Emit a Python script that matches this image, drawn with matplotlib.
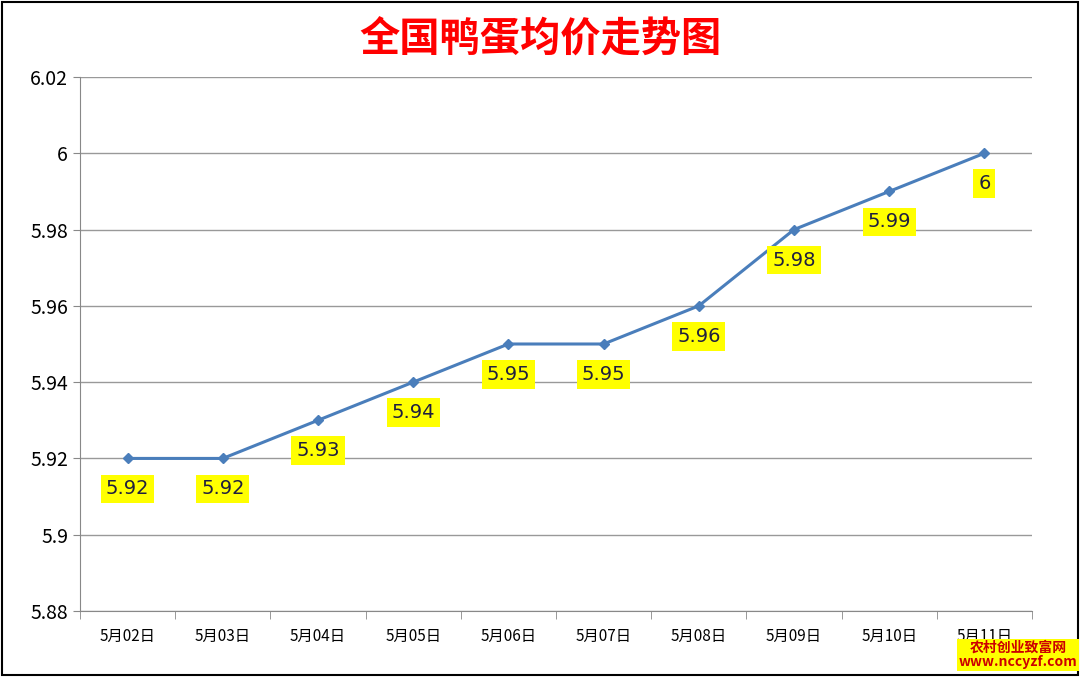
import matplotlib
matplotlib.use("Agg")
import matplotlib.pyplot as plt
from matplotlib.patches import Rectangle

plt.rcParams['font.family'] = ['Noto Sans CJK SC', 'DejaVu Sans']

dates = ["5月02日", "5月03日", "5月04日", "5月05日", "5月06日",
         "5月07日", "5月08日", "5月09日", "5月10日", "5月11日"]
prices = [5.92, 5.92, 5.93, 5.94, 5.95, 5.95, 5.96, 5.98, 5.99, 6.00]
yticks = [5.88, 5.9, 5.92, 5.94, 5.96, 5.98, 6.0, 6.02]
ytick_labels = ["5.88", "5.9", "5.92", "5.94", "5.96", "5.98", "6", "6.02"]

fig = plt.figure(figsize=(10.8, 6.77), dpi=100)
ax = fig.add_axes([80 / 1080, 1 - 611 / 677, 952 / 1080, 534 / 677])
fig.patches.append(Rectangle((0.002, 0.003), 0.996, 0.994, transform=fig.transFigure,
                             fill=False, edgecolor="black", lw=1.5))

x = list(range(len(dates)))
ax.plot(x, prices, color="#4a7ebb", lw=2.2, marker="D", ms=5.5, zorder=3)
for xi, p in zip(x, prices):
    lbl = "6" if p == 6.0 else f"{p:.2f}"
    ax.annotate(lbl, (xi, p), xytext=(0, -22), textcoords="offset points",
                ha="center", va="center", fontsize=14, color="#1f1f3f",
                family="DejaVu Sans",
                bbox=dict(boxstyle="square,pad=0.25", fc="#ffff00", ec="none"))

ax.set_xlim(-0.5, len(dates) - 0.5)
ax.set_ylim(5.88, 6.02)
ax.set_yticks(yticks)
ax.set_yticklabels(ytick_labels, fontsize=14)
ax.set_xticks(x)
ax.set_xticklabels(dates, fontsize=11)
ax.set_xticks([i - 0.5 for i in range(len(dates) + 1)], minor=True)
ax.tick_params(axis="x", which="major", length=0, pad=12)
ax.tick_params(axis="x", which="minor", length=6, color="#888888")
ax.tick_params(axis="y", length=5, color="#888888")
ax.grid(axis="y", color="#999999", lw=1)
for s in ("top", "right"):
    ax.spines[s].set_visible(False)
for s in ("left", "bottom"):
    ax.spines[s].set_color("#888888")

fig.text(0.5, 1 - 40 / 677, "全国鸭蛋均价走势图", ha="center", va="center",
         fontsize=29, fontweight="bold", color="#ff0000")
fig.text(1018 / 1080, 1 - 655 / 677, "农村创业致富网\nwww.nccyzf.com", ha="center",
         va="center", fontsize=10, color="#cc0000", fontweight="bold", linespacing=1.0,
         bbox=dict(boxstyle="square,pad=0.15", fc="#ffff00", ec="none"))

fig.savefig("out.png", dpi=100)
